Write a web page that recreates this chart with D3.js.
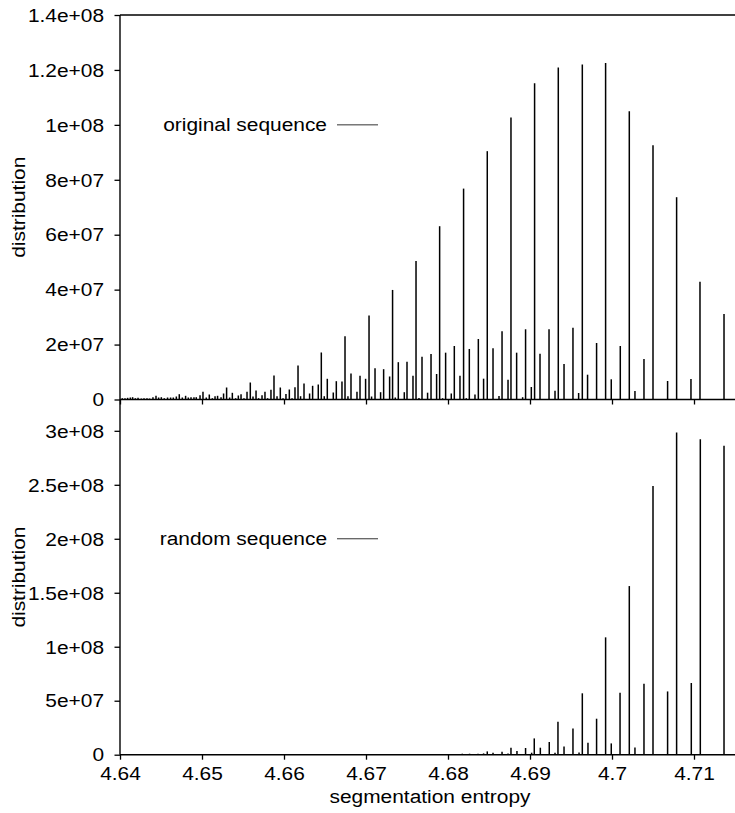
<!DOCTYPE html>
<html>
<head>
<meta charset="utf-8">
<script src="https://cdn.jsdelivr.net/npm/d3@7"></script>
<style>
  body { margin: 0; background: #fff; }
  svg text { font-family: "Liberation Sans", Arial, Helvetica, sans-serif; font-size: 19px; fill: #000; }
</style>
</head>
<body>
<div id="chart"></div>
<script>
// Entropy positions of the spikes, original sequence (top panel)
var origX = [4.64028,4.64061,4.64093,4.64126,4.64154,4.64187,4.64220,4.64260,4.64293,4.64329,
  4.64361,4.64402,4.64439,4.64471,4.64504,4.64540,4.64580,4.64617,4.64650,4.64687,
  4.64723,4.64760,4.64800,4.64833,4.64866,4.64902,4.64930,4.64976,4.65012,4.65052,
  4.65089,4.65126,4.65159,4.65190,4.65232,4.65263,4.65300,4.65337,4.65370,4.65410,
  4.65443,4.65476,4.65512,4.65549,4.65589,4.65622,4.65659,4.65690,4.65732,4.65768,
  4.65800,4.65841,4.65878,4.65915,4.65955,4.65988,4.66024,4.66065,4.66098,4.66134,
  4.66171,4.66202,4.66244,4.66312,4.66349,4.66418,4.66455,4.66491,4.66528,4.66601,
  4.66638,4.66707,4.66744,4.66780,4.66817,4.66890,4.66927,4.66995,4.67037,4.67068,
  4.67110,4.67178,4.67215,4.67288,4.67324,4.67357,4.67394,4.67467,4.67500,4.67573,
  4.67610,4.67646,4.67683,4.67751,4.67793,4.67861,4.67898,4.67934,4.67971,4.68040,
  4.68077,4.68146,4.68190,4.68223,4.68260,4.68329,4.68370,4.68434,4.68479,4.68549,
  4.68622,4.68659,4.68732,4.68768,4.68837,4.68910,4.68946,4.69016,4.69056,4.69122,
  4.69232,4.69305,4.69345,4.69415,4.69524,4.69593,4.69638,4.69702,4.69812,4.69922,
  4.69991,4.70101,4.70211,4.70280,4.70390,4.70500,4.70678,4.70788,4.70963,4.71073,
  4.71366];
// distribution of the original sequence, in millions
var origY = [0.47,0.47,0.62,0.73,0.84,0.47,0.62,0.36,0.47,0.47,
  0.36,0.84,1.35,0.73,0.84,0.47,0.73,0.73,0.73,1.09,
  1.93,0.73,1.35,0.73,0.84,0.84,0.84,1.57,2.81,0.73,
  1.82,0.47,1.20,1.35,0.84,2.19,4.37,0.73,2.44,0.47,
  1.46,1.93,0.47,2.81,6.19,1.09,3.28,0.47,1.57,2.81,
  0.47,3.53,8.74,1.20,4.37,0.47,2.00,3.64,0.47,4.48,
  12.39,1.20,5.83,2.19,4.99,5.46,17.12,1.20,7.54,2.55,
  6.67,6.56,23.06,1.20,9.47,2.81,8.63,7.54,30.60,1.09,
  11.40,2.66,11.04,8.38,39.89,0.73,13.59,2.66,13.73,8.63,
  50.46,0.55,15.59,2.48,16.58,9.29,63.10,0.47,17.05,2.19,
  19.49,8.67,76.79,0.47,18.40,1.82,22.04,7.58,90.42,18.65,
  1.28,24.85,7.21,102.66,17.05,0.84,25.57,4.55,115.19,16.68,
  25.57,3.21,120.87,12.93,26.16,2.37,121.97,9.03,20.58,122.48,
  7.36,19.49,104.99,3.10,14.75,92.60,6.74,73.66,7.47,42.91,
  31.15];

// random sequence (bottom panel)
var randX = [4.67955,4.68007,4.68089,4.68174,4.68199,4.68263,4.68366,4.68434,4.68479,4.68549,
  4.68659,4.68732,4.68768,4.68841,4.68946,4.69020,4.69052,4.69126,4.69235,4.69305,
  4.69341,4.69415,4.69524,4.69598,4.69638,4.69707,4.69812,4.69922,4.69991,4.70098,
  4.70211,4.70280,4.70390,4.70500,4.70678,4.70788,4.70967,4.71077,4.71366];
var randY = [0.46,0.46,0.65,0.93,0.46,0.93,0.93,1.20,3.06,1.85,
  2.78,1.20,6.48,3.43,6.20,1.85,15.09,6.48,11.76,1.85,
  30.56,7.69,24.35,2.13,56.86,11.11,33.33,108.7,10.46,57.41,
  156.2,6.76,65.75,248.8,58.6,298.5,66.4,292.1,286.1];

// ticks
var xTicks = [4.64, 4.65, 4.66, 4.67, 4.68, 4.69, 4.70, 4.71];
var xTickLabels = ["4.64", "4.65", "4.66", "4.67", "4.68", "4.69", "4.7", "4.71"];
var topTicks = [0, 2e7, 4e7, 6e7, 8e7, 1e8, 1.2e8, 1.4e8];
var topTickLabels = ["0", "2e+07", "4e+07", "6e+07", "8e+07", "1e+08", "1.2e+08", "1.4e+08"];
var botTicks = [0, 5e7, 1e8, 1.5e8, 2e8, 2.5e8, 3e8];
var botTickLabels = ["0", "5e+07", "1e+08", "1.5e+08", "2e+08", "2.5e+08", "3e+08"];

var MILLION = 1e6;

// layout
var width = 735, height = 813;
var left = 120, right = 735;
var topEdge = 15, midLine = 399.5, bottomLine = 754.7;
var stretch = "scale(1.1,1)"; // the original lettering is a bit wide

var svg = d3.select("#chart").append("svg")
  .attr("width", width)
  .attr("height", height);

// scales
var x = d3.scaleLinear().domain([4.64, 4.715]).range([left, right]);
var yTop = d3.scaleLinear().domain([0, 1.4e8]).range([midLine, topEdge]);
var yBot = d3.scaleLinear().domain([0, 3.29e8]).range([bottomLine, midLine]);

// impulses
function drawSpikes(xs, ys, y) {
  svg.append("g")
    .selectAll("line")
    .data(d3.zip(xs, ys))
    .enter().append("line")
    .attr("x1", function(d) { return x(d[0]); })
    .attr("x2", function(d) { return x(d[0]); })
    .attr("y1", y(0))
    .attr("y2", function(d) { return y(d[1] * MILLION); })
    .attr("stroke", "#000")
    .attr("stroke-width", 1.5);
}
drawSpikes(origX, origY, yTop);
drawSpikes(randX, randY, yBot);

// y axes
function yAxis(scale, ticks, labels) {
  var g = svg.append("g")
    .attr("transform", "translate(" + left + ",0)")
    .call(d3.axisLeft(scale)
      .tickValues(ticks)
      .tickFormat(function(d, i) { return labels[i]; })
      .tickSize(5.5)
      .tickPadding(9)
      .tickSizeOuter(0));
  g.select(".domain").remove();
  g.selectAll("line").attr("stroke-width", 1.3);
  g.selectAll("text").attr("transform", stretch).attr("dy", "0.33em");
}
yAxis(yTop, topTicks, topTickLabels);
yAxis(yBot, botTicks, botTickLabels);

// x axes: ticks under the top panel, ticks + labels under the bottom one
function xAxis(yPos, labels) {
  var g = svg.append("g")
    .attr("transform", "translate(0," + yPos + ")")
    .call(d3.axisBottom(x)
      .tickValues(xTicks)
      .tickFormat(function(d, i) { return labels ? labels[i] : ""; })
      .tickSize(5)
      .tickPadding(7)
      .tickSizeOuter(0));
  g.select(".domain").remove();
  g.selectAll("line").attr("stroke-width", 1.3);
  g.selectAll("text").attr("transform", stretch);
}
xAxis(midLine, null);
xAxis(bottomLine, xTickLabels);

// frame lines
var frame = [
  [left, topEdge, right, topEdge],
  [left, midLine, right, midLine],
  [left, bottomLine, right, bottomLine],
  [left, topEdge, left, bottomLine]
];
svg.append("g").selectAll("line")
  .data(frame)
  .enter().append("line")
  .attr("x1", function(d) { return d[0]; })
  .attr("y1", function(d) { return d[1]; })
  .attr("x2", function(d) { return d[2]; })
  .attr("y2", function(d) { return d[3]; })
  .attr("stroke", "#000")
  .attr("stroke-width", 1.4);

// axis titles
svg.append("text")
  .attr("transform", "translate(25," + (topEdge + midLine) / 2 + ") rotate(-90) " + stretch)
  .attr("text-anchor", "middle")
  .text("distribution");
svg.append("text")
  .attr("transform", "translate(25," + (midLine + bottomLine) / 2 + ") rotate(-90) " + stretch)
  .attr("text-anchor", "middle")
  .text("distribution");
svg.append("text")
  .attr("transform", "translate(430,803) " + stretch)
  .attr("text-anchor", "middle")
  .text("segmentation entropy");

// keys
function key(label, yPos) {
  svg.append("text")
    .attr("transform", "translate(327," + (yPos + 5.8) + ") " + stretch)
    .attr("text-anchor", "end")
    .text(label);
  svg.append("line")
    .attr("x1", 337).attr("x2", 378)
    .attr("y1", yPos).attr("y2", yPos)
    .attr("stroke", "#333")
    .attr("stroke-width", 1);
}
key("original sequence", yTop(1e8));
key("random sequence", yBot(2e8));
</script>
</body>
</html>
